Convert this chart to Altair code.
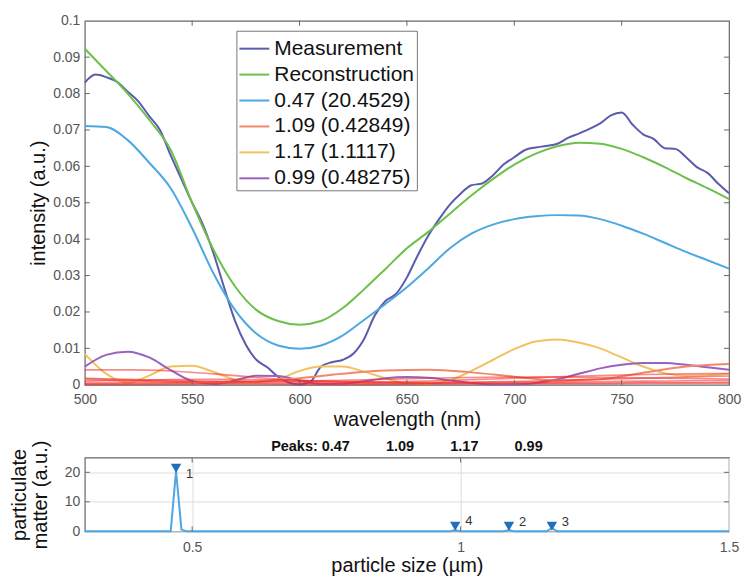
import altair as alt
import pandas as pd

# ---------------- data ----------------
wl5 = list(range(500, 801, 5))
wl10 = list(range(500, 801, 10))
wl20 = list(range(500, 801, 20))

measurement = [0.0830, 0.0852, 0.0845, 0.0832, 0.0805, 0.0778, 0.0738, 0.0700, 0.0630, 0.0565,
               0.0500, 0.0440, 0.0360, 0.0265, 0.0175, 0.0110, 0.0068, 0.0048, 0.0022, 0.0006,
               0.0001, 0.0008, 0.0050, 0.0062, 0.0068, 0.0085, 0.0125, 0.0190, 0.0230, 0.0250,
               0.0295, 0.0355, 0.0410, 0.0455, 0.0495, 0.0525, 0.0548, 0.0553, 0.0575, 0.0605,
               0.0625, 0.0645, 0.0652, 0.0656, 0.0662, 0.0678, 0.0690, 0.0703, 0.0718, 0.0740,
               0.0748, 0.0715, 0.0688, 0.0675, 0.0650, 0.0648, 0.0625, 0.0598, 0.0582, 0.0552,
               0.0526]

reconstruction = [0.0923, 0.0862, 0.0800, 0.0728, 0.0645, 0.0500, 0.0370, 0.0270, 0.0205, 0.0175,
                  0.0165, 0.0175, 0.0210, 0.0262, 0.0318, 0.0375, 0.0420, 0.0470, 0.0520, 0.0565,
                  0.0605, 0.0635, 0.0655, 0.0665, 0.0662, 0.0648, 0.0625, 0.0598, 0.0568, 0.0540,
                  0.0510]

comp_047 = [0.0711, 0.0708, 0.0672, 0.0610, 0.0540, 0.0430, 0.0305, 0.0205, 0.0140, 0.0108,
            0.0099, 0.0108, 0.0135, 0.0178, 0.0222, 0.0268, 0.0320, 0.0375, 0.0415, 0.0440,
            0.0455, 0.0463, 0.0466, 0.0465, 0.0455, 0.0437, 0.0415, 0.0390, 0.0365, 0.0342,
            0.0319]

comp_117 = [0.0085, 0.0030, 0.0006, 0.0025, 0.0050, 0.0052, 0.0035, 0.0014, 0.0007, 0.0015,
            0.0038, 0.0050, 0.0050, 0.0036, 0.0018, 0.0004, 0.0002, 0.0012, 0.0038, 0.0068,
            0.0098, 0.0119, 0.0124, 0.0116, 0.0100, 0.0075, 0.0050, 0.0032, 0.0025, 0.0026,
            0.0030]

comp_099 = [0.0050, 0.0082, 0.0091, 0.0075, 0.0040, 0.0010, 0.0002, 0.0012, 0.0025, 0.0024,
            0.0012, 0.0002, 0.0003, 0.0010, 0.0018, 0.0021, 0.0019, 0.0012, 0.0005, 0.0001,
            0.0001, 0.0005, 0.0015, 0.0030, 0.0045, 0.0055, 0.0060, 0.0060, 0.0055, 0.0048,
            0.0041]

comp_109 = [0.0015, 0.0012, 0.0008, 0.0006, 0.0009, 0.0018, 0.0030, 0.0039, 0.0041, 0.0034,
            0.0022, 0.0012, 0.0015, 0.0033, 0.0050, 0.0057]

red_1 = [0.0041, 0.0041, 0.0038, 0.0030, 0.0020, 0.0012, 0.0008, 0.0008, 0.0010, 0.0014,
         0.0018, 0.0022, 0.0025, 0.0028, 0.0030, 0.0031]
red_2 = [0.0018, 0.0015, 0.0012, 0.0010, 0.0009, 0.0010, 0.0012, 0.0015, 0.0018, 0.0020,
         0.0021, 0.0021, 0.0020, 0.0019, 0.0017, 0.0016]
red_3 = [0.0010, 0.0012, 0.0014, 0.0015, 0.0014, 0.0012, 0.0009, 0.0007, 0.0006, 0.0007,
         0.0009, 0.0012, 0.0015, 0.0018, 0.0021, 0.0024]
red_4 = [0.0005, 0.0006, 0.0007, 0.0008, 0.0008, 0.0007, 0.0006, 0.0005, 0.0005, 0.0006,
         0.0007, 0.0008, 0.0009, 0.0010, 0.0011, 0.0012]
red_5 = [0.0002, 0.0003, 0.0003, 0.0004, 0.0004, 0.0004, 0.0003, 0.0003, 0.0003, 0.0004,
         0.0004, 0.0005, 0.0005, 0.0006, 0.0006, 0.0007]
red_6 = [0.0001, 0.0001, 0.0002, 0.0002, 0.0002, 0.0001, 0.0001, 0.0001, 0.0002, 0.0002,
         0.0003, 0.0003, 0.0003, 0.0004, 0.0004, 0.0004]

series_names = ["Measurement", "Reconstruction", "0.47 (20.4529)", "1.09 (0.42849)",
                "1.17 (1.1117)", "0.99 (0.48275)"]
series_colors = ["#5B5BAE", "#6CC04A", "#4DA8E0", "#F0896A", "#F2C261", "#9A62BE"]

x_ticks_main = [500, 550, 600, 650, 700, 750, 800]
y_ticks_main = [0, 0.01, 0.02, 0.03, 0.04, 0.05, 0.06, 0.07, 0.08, 0.09, 0.1]

# particle size distribution
size_um = [0.30, 0.46, 0.47, 0.48, 0.49, 0.98, 0.99, 1.00, 1.08, 1.09, 1.10, 1.16, 1.17, 1.18, 1.50]
pm_value = [0, 0, 20.45, 0.6, 0, 0, 0.48, 0, 0, 0.43, 0, 0, 1.11, 0, 0]
peak_x = [0.47, 1.09, 1.17, 0.99]
peak_marker_y = [21.4, 1.7, 1.7, 1.7]
peak_label = ["1", "2", "3", "4"]
peak_label_y = [19.4, 3.2, 3.3, 3.4]
x_ticks_bot = [0.5, 1, 1.5]
y_ticks_bot = [0, 10, 20]
peaks_title = ["Peaks: 0.47", "1.09", "1.17", "0.99"]

# ---------------- build tables ----------------
rows = []
for w, v in zip(wl5, measurement):
    rows.append({"wl": w, "val": v, "series": series_names[0], "order": 0})
for name, arr, k in [(series_names[1], reconstruction, 1), (series_names[2], comp_047, 2),
                     (series_names[4], comp_117, 4), (series_names[5], comp_099, 5)]:
    for w, v in zip(wl10, arr):
        rows.append({"wl": w, "val": v, "series": name, "order": k})
for w, v in zip(wl20, comp_109):
    rows.append({"wl": w, "val": v, "series": series_names[3], "order": 3})
df_main = pd.DataFrame(rows)

red_rows = []
for i, arr in enumerate([red_1, red_2, red_3, red_4, red_5, red_6]):
    for w, v in zip(wl20, arr):
        red_rows.append({"wl": w, "val": v, "rid": i})
df_red = pd.DataFrame(red_rows)

df_size = pd.DataFrame({"size": size_um, "pm": pm_value})
df_peaks = pd.DataFrame({"size": peak_x, "pm": peak_marker_y})
df_plabels = pd.DataFrame({"size": peak_x, "pm": peak_label_y, "lab": peak_label})

FONT = "Liberation Sans"
FRAME = "#666666"
W, H1, H2 = 646, 365, 74
TL = 5

# ---------------- main panel ----------------
xs_main = alt.Scale(domain=[500, 800], nice=False, zero=False)
ys_main = alt.Scale(domain=[0, 0.1], nice=False, zero=False)

x_main = alt.X("wl:Q", scale=xs_main,
               axis=alt.Axis(values=x_ticks_main, format="d", title="wavelength (nm)",
                             grid=False, labelFlush=False, labelPadding=8, titlePadding=3))
y_main = alt.Y("val:Q", scale=ys_main,
               axis=alt.Axis(values=y_ticks_main, format="~g", title="intensity (a.u.)",
                             grid=False, labelPadding=5, titlePadding=4))

reds = alt.Chart(df_red).mark_line(color="#F02A2A", strokeWidth=1.6, opacity=0.55,
                                   interpolate="monotone").encode(
    x=x_main, y=y_main, detail="rid:N")

lines = alt.Chart(df_main).mark_line(strokeWidth=2, interpolate="monotone").encode(
    x=x_main, y=y_main,
    color=alt.Color("series:N",
                    scale=alt.Scale(domain=series_names, range=series_colors),
                    legend=alt.Legend(orient="none", legendX=152, legendY=10, title=None,
                                      symbolType="stroke", symbolSize=900, symbolStrokeWidth=2,
                                      labelFontSize=21, labelFont=FONT, labelColor="#111111",
                                      labelLimit=400, labelOffset=4, rowPadding=0,
                                      fillColor="white", strokeColor="#777777", padding=2,
                                      cornerRadius=0)),
    order="order:Q")

xt_df = pd.DataFrame({"wl": x_ticks_main[1:-1]})
yt_df = pd.DataFrame({"val": y_ticks_main[1:-1]})
tk = dict(color=FRAME, strokeWidth=1)
xtick_b = alt.Chart(xt_df).mark_rule(**tk).encode(
    x=x_main, y=alt.value(H1), y2=alt.value(H1 - TL))
xtick_t = alt.Chart(xt_df).mark_rule(**tk).encode(
    x=x_main, y=alt.value(0), y2=alt.value(TL))
ytick_l = alt.Chart(yt_df).mark_rule(**tk).encode(
    y=y_main, x=alt.value(0), x2=alt.value(TL))
ytick_r = alt.Chart(yt_df).mark_rule(**tk).encode(
    y=y_main, x=alt.value(W), x2=alt.value(W - TL))

main = alt.layer(lines, reds, xtick_b, xtick_t, ytick_l, ytick_r).properties(width=W, height=H1)

# ---------------- bottom panel ----------------
xs_bot = alt.Scale(domain=[0.3, 1.5], nice=False, zero=False)
ys_bot = alt.Scale(domain=[0, 25], nice=False)
x_bot = alt.X("size:Q", scale=xs_bot,
              axis=alt.Axis(values=x_ticks_bot, format="~g", title="particle size (µm)",
                            grid=True, gridColor="#DDDDDD", labelFlush=False,
                            labelPadding=9, titlePadding=1))
y_bot = alt.Y("pm:Q", scale=ys_bot,
              axis=alt.Axis(values=y_ticks_bot, format="d", title=["particulate", "matter (a.u.)"],
                            grid=True, gridColor="#DDDDDD", labelPadding=5, titlePadding=14,
                            titleLineHeight=21))

dist = alt.Chart(df_size).mark_line(color="#4DA6E3", strokeWidth=2).encode(x=x_bot, y=y_bot)
marks = alt.Chart(df_peaks).mark_point(shape="triangle-down", size=110, filled=True,
                                       color="#1F70BA", opacity=1).encode(x=x_bot, y=y_bot)
labs = alt.Chart(df_plabels).mark_text(align="left", baseline="middle", dx=10, fontSize=13,
                                       font=FONT, color="#333333").encode(
    x=x_bot, y=y_bot, text="lab:N")

xb_df = pd.DataFrame({"size": [0.5, 1.0]})
yb_df = pd.DataFrame({"pm": [10, 20]})
btick_b = alt.Chart(xb_df).mark_rule(**tk).encode(
    x=x_bot, y=alt.value(H2), y2=alt.value(H2 - TL))
btick_t = alt.Chart(xb_df).mark_rule(**tk).encode(
    x=x_bot, y=alt.value(0), y2=alt.value(TL))
btick_l = alt.Chart(yb_df).mark_rule(**tk).encode(
    y=y_bot, x=alt.value(0), x2=alt.value(TL))
btick_r = alt.Chart(yb_df).mark_rule(**tk).encode(
    y=y_bot, x=alt.value(W), x2=alt.value(W - TL))

nb = "\u00a0" * 9
bottom = alt.layer(dist, marks, labs, btick_b, btick_t, btick_l, btick_r).properties(
    width=W, height=H2,
    title=alt.TitleParams(nb.join(peaks_title), fontSize=14.5, fontWeight="bold", font=FONT,
                          color="#111111", offset=3, anchor="middle", frame="group",
                          baseline="bottom", dy=31))

chart = alt.vconcat(main, bottom, spacing=73, bounds="flush").resolve_legend(
    color="independent").configure(
    padding={"left": 0, "top": 4, "right": 0, "bottom": 5}
).configure_view(stroke=FRAME, strokeWidth=1.2).configure_axis(
    domain=False, ticks=False, labelFont=FONT, labelFontSize=14, labelColor="#555555",
    titleFont=FONT, titleFontSize=20, titleColor="#111111", titleFontWeight="normal")

chart.save("out.html", embed_options={"renderer": "svg", "actions": False})
